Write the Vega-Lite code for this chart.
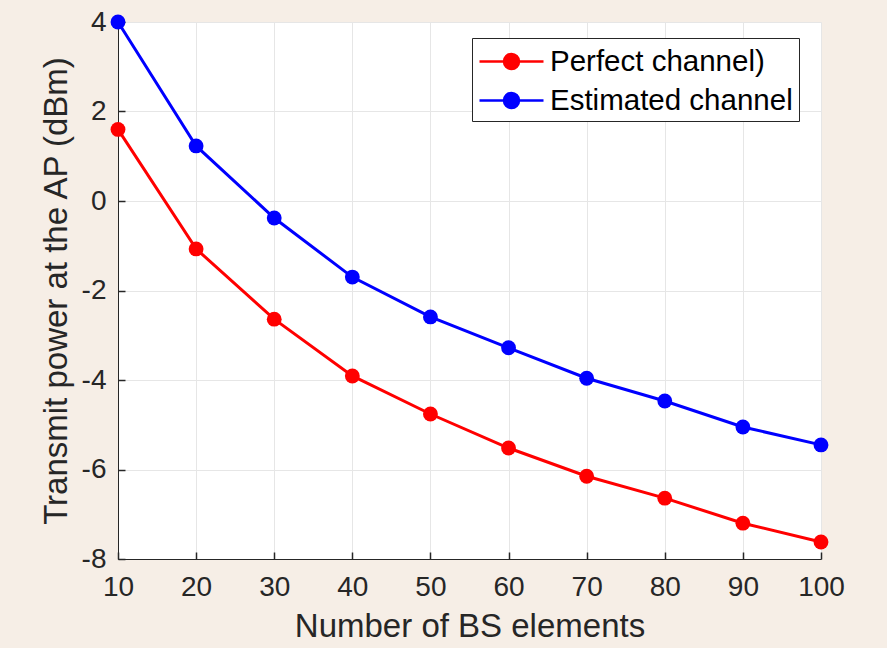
{
  "$schema": "https://vega.github.io/schema/vega-lite/v6.json",
  "width": 703,
  "height": 537,
  "autosize": {"type": "none"},
  "padding": {"left": 118, "top": 22, "right": 66, "bottom": 89},
  "background": "#f6eee6",
  "config": {
    "view": {"fill": "white", "stroke": null},
    "font": "Liberation Sans",
    "axis": {
      "labelFont": "Liberation Sans",
      "titleFont": "Liberation Sans",
      "labelColor": "#262626",
      "titleColor": "#262626",
      "titleFontWeight": "normal",
      "domainColor": "#262626",
      "tickColor": "#262626",
      "gridColor": "#e6e6e6",
      "gridWidth": 1,
      "domainWidth": 1,
      "tickWidth": 1.5,
      "tickSize": -7,
      "labelFontSize": 28,
      "titleFontSize": 33,
      "labelFlush": false
    },
    "legend": {
      "labelFont": "Liberation Sans",
      "labelFontSize": 29.5,
      "labelColor": "#000000",
      "labelLimit": 0
    }
  },
  "data": {
    "values": [
      {"n": 10, "power": 1.6, "series": "Perfect channel)"},
      {"n": 20, "power": -1.07, "series": "Perfect channel)"},
      {"n": 30, "power": -2.64, "series": "Perfect channel)"},
      {"n": 40, "power": -3.91, "series": "Perfect channel)"},
      {"n": 50, "power": -4.76, "series": "Perfect channel)"},
      {"n": 60, "power": -5.52, "series": "Perfect channel)"},
      {"n": 70, "power": -6.15, "series": "Perfect channel)"},
      {"n": 80, "power": -6.64, "series": "Perfect channel)"},
      {"n": 90, "power": -7.2, "series": "Perfect channel)"},
      {"n": 100, "power": -7.62, "series": "Perfect channel)"},
      {"n": 10, "power": 4.0, "series": "Estimated channel"},
      {"n": 20, "power": 1.23, "series": "Estimated channel"},
      {"n": 30, "power": -0.38, "series": "Estimated channel"},
      {"n": 40, "power": -1.7, "series": "Estimated channel"},
      {"n": 50, "power": -2.59, "series": "Estimated channel"},
      {"n": 60, "power": -3.28, "series": "Estimated channel"},
      {"n": 70, "power": -3.96, "series": "Estimated channel"},
      {"n": 80, "power": -4.47, "series": "Estimated channel"},
      {"n": 90, "power": -5.05, "series": "Estimated channel"},
      {"n": 100, "power": -5.45, "series": "Estimated channel"}
    ]
  },
  "encoding": {
    "x": {
      "field": "n",
      "type": "quantitative",
      "scale": {"domain": [10, 100], "nice": false, "zero": false},
      "axis": {
        "title": "Number of BS elements",
        "values": [10, 20, 30, 40, 50, 60, 70, 80, 90, 100],
        "labelPadding": 21,
        "titlePadding": 9
      }
    },
    "y": {
      "field": "power",
      "type": "quantitative",
      "scale": {"domain": [-8, 4], "nice": false, "zero": false},
      "axis": {
        "title": "Transmit power at the AP (dBm)",
        "values": [-8, -6, -4, -2, 0, 2, 4],
        "labelExpr": "datum.value < 0 ? '-' + abs(datum.value) : '' + datum.value",
        "labelPadding": 19,
        "titlePadding": 8
      }
    },
    "color": {
      "field": "series",
      "type": "nominal",
      "scale": {"domain": ["Perfect channel)", "Estimated channel"], "range": ["#ff0000", "#0000ff"]},
      "legend": {
        "title": null,
        "orient": "none",
        "legendX": 354,
        "legendY": 16,
        "fillColor": "white",
        "strokeColor": "#262626",
        "padding": 6,
        "symbolType": "M-1,0H3M0.53,0A0.47,0.47 0 1,0 1.47,0A0.47,0.47 0 1,0 0.53,0Z",
        "symbolSize": 1024,
        "symbolStrokeWidth": 2.5,
        "labelOffset": 37,
        "rowPadding": 7
      }
    }
  },
  "layer": [
    {"mark": {"type": "line", "strokeWidth": 3}},
    {"mark": {"type": "point", "filled": true, "opacity": 1, "size": 220}}
  ]
}
